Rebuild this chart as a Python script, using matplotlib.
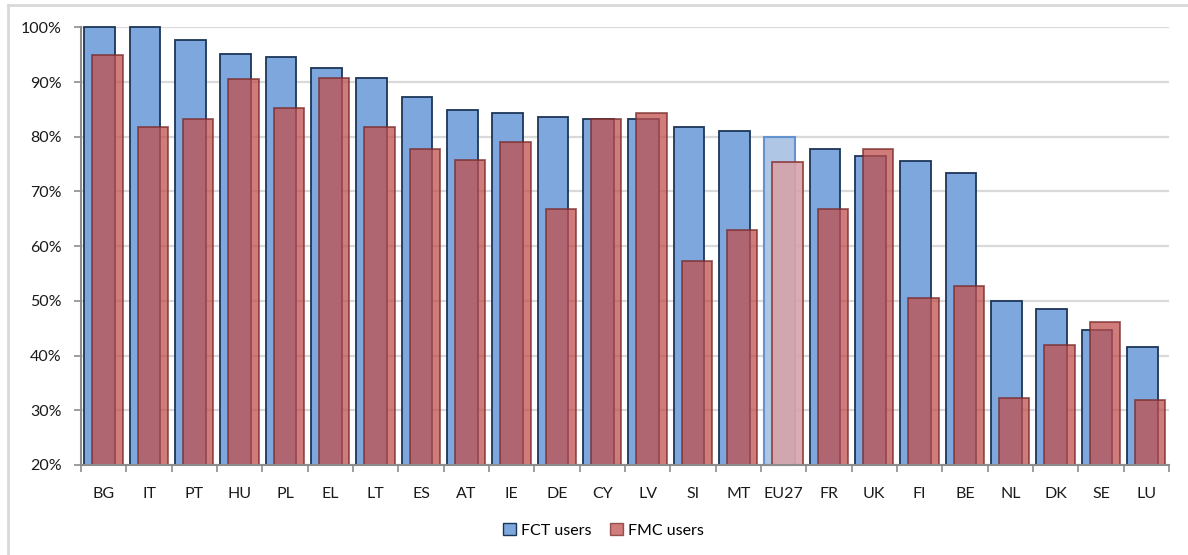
import numpy as np
import matplotlib
matplotlib.use("Agg")
import matplotlib.pyplot as plt
from matplotlib.lines import Line2D
from matplotlib.patches import Patch

plt.rcParams["font.family"] = ["Lato", "DejaVu Sans"]

# Part des utilisateurs par pays (en %)
countries = ["BG", "IT", "PT", "HU", "PL", "EL", "LT", "ES", "AT", "IE", "DE", "CY",
             "LV", "SI", "MT", "EU27", "FR", "UK", "FI", "BE", "NL", "DK", "SE", "LU"]
fct_users = [100.0, 100.0, 97.7, 95.2, 94.6, 92.5, 90.8, 87.2, 84.9, 84.4, 83.6, 83.3,
             83.3, 81.8, 81.1, 80.0, 77.7, 76.4, 75.5, 73.4, 49.9, 48.6, 44.6, 41.6]
fmc_users = [94.9, 81.8, 83.3, 90.5, 85.2, 90.8, 81.8, 77.7, 75.7, 79.0, 66.8, 83.3,
             84.4, 57.3, 63.0, 75.4, 66.8, 77.7, 50.6, 52.7, 32.3, 41.9, 46.1, 31.8]
yticks = [20, 30, 40, 50, 60, 70, 80, 90, 100]

BLUE, BLUE_EDGE = "#7DA7DD", "#1C3557"
RED, RED_EDGE = "#C0504D", "#7A2A2A"
GRID = "#D9D9D9"
AXIS = "#8C8C8C"

fig = plt.figure(figsize=(11.88, 5.55), dpi=100)
ax = fig.add_axes([0.0682, 0.1622, 0.9158, 0.7886])

n = len(countries)
x = np.arange(n)
fct = np.array(fct_users)
fmc = np.array(fmc_users)
base = yticks[0]

# barres FCT (larges, a gauche) puis FMC translucides par-dessus, decalees a droite
is_eu = np.array([c == "EU27" for c in countries])
for i in range(n):
    if is_eu[i]:
        ax.bar(x[i] + 0.07, fct[i] - base, bottom=base, width=0.68, align="edge",
               color="#AFC6E4", edgecolor="#6493CD", linewidth=1.5, zorder=2, clip_on=False)
        ax.bar(x[i] + 0.25, fmc[i] - base, bottom=base, width=0.67, align="edge",
               color="#D7A3AA", edgecolor="#8E3A3A", linewidth=1.3, alpha=0.9, zorder=3,
               clip_on=False)
    else:
        ax.bar(x[i] + 0.07, fct[i] - base, bottom=base, width=0.68, align="edge",
               color=BLUE, edgecolor=BLUE_EDGE, linewidth=1.3, zorder=2, clip_on=False)
        ax.bar(x[i] + 0.25, fmc[i] - base, bottom=base, width=0.67, align="edge",
               color=RED, edgecolor=RED_EDGE, linewidth=1.3, alpha=0.75, zorder=3,
               clip_on=False)

ax.set_xlim(0, n)
ax.set_ylim(base, 100)
ax.set_yticks(yticks)
ax.set_yticklabels([f"{v}%" for v in yticks])
ax.yaxis.grid(True, color=GRID, linewidth=1.6, zorder=0)
ax.set_axisbelow(True)

# graduations aux limites des categories, libelles au centre
ax.set_xticks(np.arange(n + 1))
ax.set_xticklabels([])
ax.set_xticks(x + 0.5, minor=True)
ax.set_xticklabels(countries, minor=True)
ax.tick_params(axis="x", which="major", length=5, width=1.2, color=AXIS, direction="out")
ax.tick_params(axis="x", which="minor", length=0, pad=16, labelsize=11.5, labelcolor="#1A1A1A")
ax.tick_params(axis="y", length=5, width=1.2, color=AXIS, pad=9, labelsize=11.5,
               labelcolor="#1A1A1A")

for side in ["top", "right"]:
    ax.spines[side].set_visible(False)
for side in ["left", "bottom"]:
    ax.spines[side].set_color(AXIS)
    ax.spines[side].set_linewidth(1.5)
    ax.spines[side].set_zorder(4)

handles = [Patch(facecolor=BLUE, edgecolor=BLUE_EDGE, label="FCT users"),
           Patch(facecolor=RED, edgecolor=RED_EDGE, alpha=0.75, label="FMC users")]
fig.legend(handles=handles, loc="center", bbox_to_anchor=(0.508, 0.044), ncol=2,
           frameon=False, fontsize=11.5, handlelength=0.8, handleheight=0.8,
           handletextpad=0.3, columnspacing=1.2)

# cadre du graphique (haut et gauche)
fig.add_artist(Line2D([8 / 1188, 8 / 1188], [0, 1 - 5 / 555], color=GRID, lw=2.0))
fig.add_artist(Line2D([8 / 1188, 1], [1 - 5 / 555, 1 - 5 / 555], color=GRID, lw=2.0))

fig.savefig("out.png", dpi=100)
